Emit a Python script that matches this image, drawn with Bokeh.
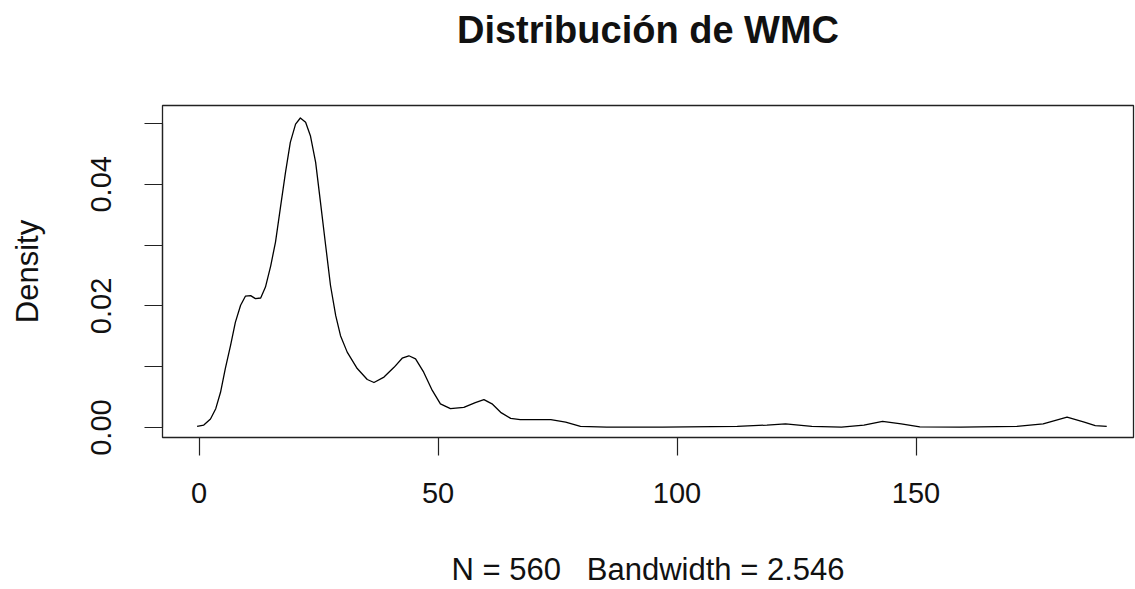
from bokeh.plotting import figure
from bokeh.embed import file_html
from bokeh.resources import INLINE
from bokeh.models import FixedTicker, Range1d, Title

# Density curve of WMC
wmc_x = [-0.4, 1.0, 2.4, 3.5, 4.5, 5.5, 6.6, 7.6, 8.7, 9.7, 10.8, 11.8, 12.9, 13.9,
         15.0, 16.0, 17.0, 18.1, 19.1, 20.2, 21.2, 22.3, 23.3, 24.4, 25.4, 26.5,
         27.5, 28.6, 29.6, 31.0, 33.1, 35.2, 36.6, 38.7, 40.8, 42.5, 43.9, 45.3,
         47.0, 48.8, 50.5, 52.6, 55.4, 57.8, 59.6, 61.3, 63.1, 65.2, 67.2, 70.8,
         73.6, 76.7, 79.8, 85.3, 97.0, 112.6, 118.8, 122.7, 128.2, 134.4, 139.1,
         143.0, 146.9, 150.8, 159.4, 171.1, 176.6, 181.6, 185.2, 187.5, 189.9]
density_y = [0.0002, 0.0004, 0.0014, 0.0031, 0.0058, 0.0097, 0.0135, 0.0173, 0.0201,
             0.0216, 0.0217, 0.0212, 0.0213, 0.0231, 0.0266, 0.0305, 0.0360, 0.0420,
             0.0469, 0.0499, 0.0509, 0.0502, 0.0480, 0.0436, 0.0371, 0.0299, 0.0234,
             0.0184, 0.0151, 0.0124, 0.0097, 0.0079, 0.0074, 0.0083, 0.0099, 0.0114,
             0.0118, 0.0113, 0.0091, 0.0061, 0.0039, 0.0031, 0.0033, 0.0041, 0.0046,
             0.0039, 0.0025, 0.0015, 0.0013, 0.0013, 0.0013, 0.0009, 0.0002, 0.00005,
             0.00005, 0.0002, 0.0004, 0.0006, 0.0002, 0.00005, 0.0004, 0.0010, 0.0006,
             0.0001, 0.00005, 0.0002, 0.0006, 0.0017, 0.0009, 0.0003, 0.0002]

x_ticks = [0, 50, 100, 150]
y_ticks = [0.0, 0.01, 0.02, 0.03, 0.04, 0.05]
y_tick_labels = {0.0: "0.00", 0.01: "", 0.02: "0.02", 0.03: "", 0.04: "0.04", 0.05: ""}

title_text = "Distribución de WMC"
x_label = "N = 560\u00a0\u00a0\u00a0Bandwidth = 2.546"
y_label = "Density"

FONT = "Liberation Sans"
TXT = "#111111"

p = figure(width=1135, height=589, output_backend="svg", toolbar_location=None,
           title=None,
           x_range=Range1d(-7.64, 195.5), y_range=Range1d(-0.00164, 0.05296),
           min_border_left=162, min_border_right=2, min_border_top=105,
           min_border_bottom=152)

# spacer between the frame and the title (nearest to the frame)
p.add_layout(Title(text=" ", text_font_size="2px", standoff=51), "above")
p.add_layout(Title(text=title_text, align="center", text_font=FONT,
                   text_font_size="38px", text_font_style="bold",
                   text_color=TXT, standoff=0, offset=3), "above")

p.line(wmc_x, density_y, line_color="black", line_width=1.3, line_join="round")

p.grid.visible = False
p.outline_line_color = "#222222"
p.outline_line_width = 1.3
p.background_fill_color = "white"
p.border_fill_color = "white"

for ax in (p.xaxis[0], p.yaxis[0]):
    ax.major_tick_in = 0
    ax.major_tick_out = 18
    ax.minor_tick_line_color = None
    ax.major_tick_line_color = "#222222"
    ax.axis_line_color = "#222222"
    ax.major_tick_line_width = 1.2
    ax.axis_line_width = 1.2
    ax.major_label_text_font = FONT
    ax.major_label_text_font_size = "29px"
    ax.major_label_text_color = TXT
    ax.axis_label_text_font = FONT
    ax.axis_label_text_font_size = "31px"
    ax.axis_label_text_font_style = "normal"
    ax.axis_label_text_color = TXT

xa = p.xaxis[0]
xa.ticker = FixedTicker(ticks=x_ticks)
xa.bounds = (min(x_ticks), max(x_ticks))
xa.major_label_standoff = 27
xa.axis_label = x_label
xa.axis_label_standoff = 46

ya = p.yaxis[0]
ya.ticker = FixedTicker(ticks=y_ticks)
ya.bounds = (min(y_ticks), max(y_ticks))
ya.major_label_overrides = y_tick_labels
ya.major_label_orientation = "vertical"
ya.major_label_standoff = 33
ya.axis_label = y_label
ya.axis_label_standoff = 44

open("out.html", "w").write(file_html(p, INLINE))
